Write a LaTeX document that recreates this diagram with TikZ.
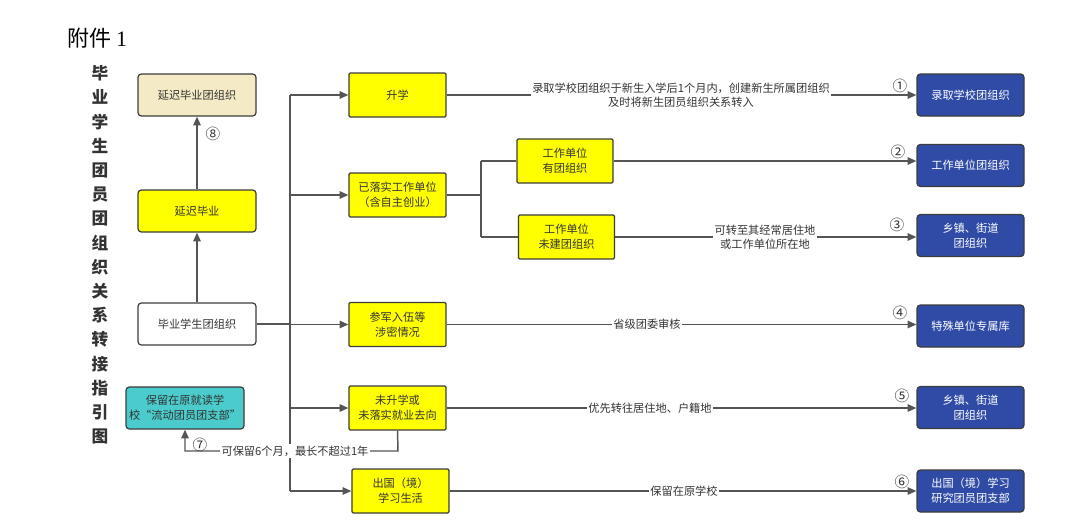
\documentclass[tikz,border=0pt]{standalone}
\usepackage{fontspec}
\setmainfont{Noto Sans CJK SC}
\newfontfamily\serifone{Liberation Serif}
\usetikzlibrary{arrows.meta}
\definecolor{yel}{HTML}{FFFF00}
\definecolor{beige}{HTML}{F4EBC6}
\definecolor{teal2}{HTML}{4BCBCB}
\definecolor{blu}{HTML}{2F4BA6}
\definecolor{bordc}{HTML}{3C3C3C}
\definecolor{linec}{HTML}{555555}
\definecolor{textc}{HTML}{333333}
\begin{document}
\begin{tikzpicture}[x=0.75pt,y=-0.75pt,
  box/.style={draw=bordc, line width=0.9pt, rounded corners=2.5pt, minimum width=88.5pt, minimum height=31.5pt, align=center, font=\fontsize{8.4}{11.2}\selectfont, text=textc, inner sep=1pt},
  ybox/.style={box, fill=yel, rounded corners=1pt, minimum width=72.75pt, minimum height=33pt},
  bbox/.style={box, fill=blu, text=white, minimum width=80.25pt, minimum height=31.5pt},
  conn/.style={draw=linec, line width=1.1pt},
  arr/.style={conn, -{Triangle[length=6.5pt,width=5.5pt]}},
  lbl/.style={fill=white, inner sep=1pt, font=\fontsize{8.4}{10.5}\selectfont, text=textc, align=center},
  num/.style={font=\fontsize{11}{11}\selectfont, text=textc, inner sep=0pt}]
\useasboundingbox (0,0) rectangle (1065,522);

% title
\node[anchor=west, inner sep=0pt, font=\fontsize{16.5}{18}\selectfont] (title) at (67,38) {附件 {\serifone 1}};
\node[inner sep=0pt, align=center, text=textc, font=\fontsize{12.5}{18.15}\selectfont\bfseries] (vtitle) at (100,255)
  {毕\\业\\学\\生\\团\\员\\团\\组\\织\\关\\系\\转\\接\\指\\引\\图};

% left column
\node[box, fill=beige] (ycorg) at (197,95) {延迟毕业团组织};
\node[box, fill=yel] (ycby) at (197,211) {延迟毕业};
\node[box, fill=white] (bys) at (197,324) {毕业学生团组织};
\node[box, fill=teal2] (liu) at (185,408) {保留在原就读学\\校“流动团员团支部”};

% middle column
\node[ybox] (sx) at (397.5,95) {升学};
\node[ybox] (ylsh) at (397.5,195) {已落实工作单位\\（含自主创业）};
\node[ybox, minimum width=72pt] (you) at (565,161) {工作单位\\有团组织};
\node[ybox, minimum width=72pt] (wj) at (566.5,237) {工作单位\\未建团组织};
\node[ybox] (cj) at (397.5,324.5) {参军入伍等\\涉密情况};
\node[ybox] (wsx) at (397.5,408) {未升学或\\未落实就业去向};
\node[ybox] (cg) at (400.5,491) {出国（境）\\学习生活};

% right column
\node[bbox] (r1) at (970.5,95) {录取学校团组织};
\node[bbox] (r2) at (970.5,165.5) {工作单位团组织};
\node[bbox] (r3) at (970.5,235.5) {乡镇、街道\\团组织};
\node[bbox] (r4) at (970.5,326) {特殊单位专属库};
\node[bbox] (r5) at (970.5,407.5) {乡镇、街道\\团组织};
\node[bbox] (r6) at (970.5,491) {出国（境）学习\\研究团员团支部};

% left arrows
\draw[arr] (bys.north) -- (ycby.south);
\draw[arr] (ycby.north) -- (ycorg.south);
\node[num] (n8) at (213,134) {⑧};

% trunk
\coordinate (ttop) at (290,95);
\coordinate (tbot) at (290,491);
\draw[conn] (ttop) -- (tbot);
\draw[conn] (bys.east) -- (bys.east -| ttop);
\draw[arr] (ttop) -- (sx.west);
\draw[arr] (ylsh.west -| ttop) -- (ylsh.west);
\draw[arr] (cj.west -| ttop) -- (cj.west);
\draw[arr] (wsx.west -| ttop) -- (wsx.west);
\draw[arr] (tbot) -- (cg.west);

% split
\coordinate (sp) at (481,195);
\draw[conn] (ylsh.east) -- (sp);
\draw[conn] (you.west -| sp) -- (wj.west -| sp);
\draw[conn] (you.west -| sp) -- (you.west);
\draw[conn] (wj.west -| sp) -- (wj.west);

% right arrows
\draw[arr] (sx.east) -- (r1.west);
\draw[arr] (you.east) -- (you.east -| r2.west);
\draw[arr] (wj.east) -- (wj.east -| r3.west);
\draw[arr] (cj.east) -- (cj.east -| r4.west);
\draw[arr] (wsx.east) -- (wsx.east -| r5.west);
\draw[arr] (cg.east) -- (cg.east -| r6.west);

% edge labels
\node[lbl] (l1) at (681,95) {录取学校团组织于新生入学后1个月内，创建新生所属团组织\\及时将新生团员组织关系转入};
\node[lbl] (l3) at (765,237) {可转至其经常居住地\\或工作单位所在地};
\node[lbl] (l4) at (647,324.5) {省级团委审核};
\node[lbl] (l5) at (650,408) {优先转往居住地、户籍地};
\node[lbl] (l6) at (684,491) {保留在原学校};

\node[num] (n1) at (900,86) {①};
\node[num] (n2) at (898,152) {②};
\node[num] (n3) at (897,225) {③};
\node[num] (n4) at (900,313) {④};
\node[num] (n5) at (902,396) {⑤};
\node[num] (n6) at (902,482) {⑥};

% retention path
\coordinate (rb) at (398,451);
\draw[arr] (wsx.south) -- (rb) -- (rb -| liu.south) -- (liu.south);
\node[lbl] (l7) at (295,451) {可保留6个月，最长不超过1年};
\node[num] (n7) at (200,445) {⑦};
\end{tikzpicture}
\end{document}
